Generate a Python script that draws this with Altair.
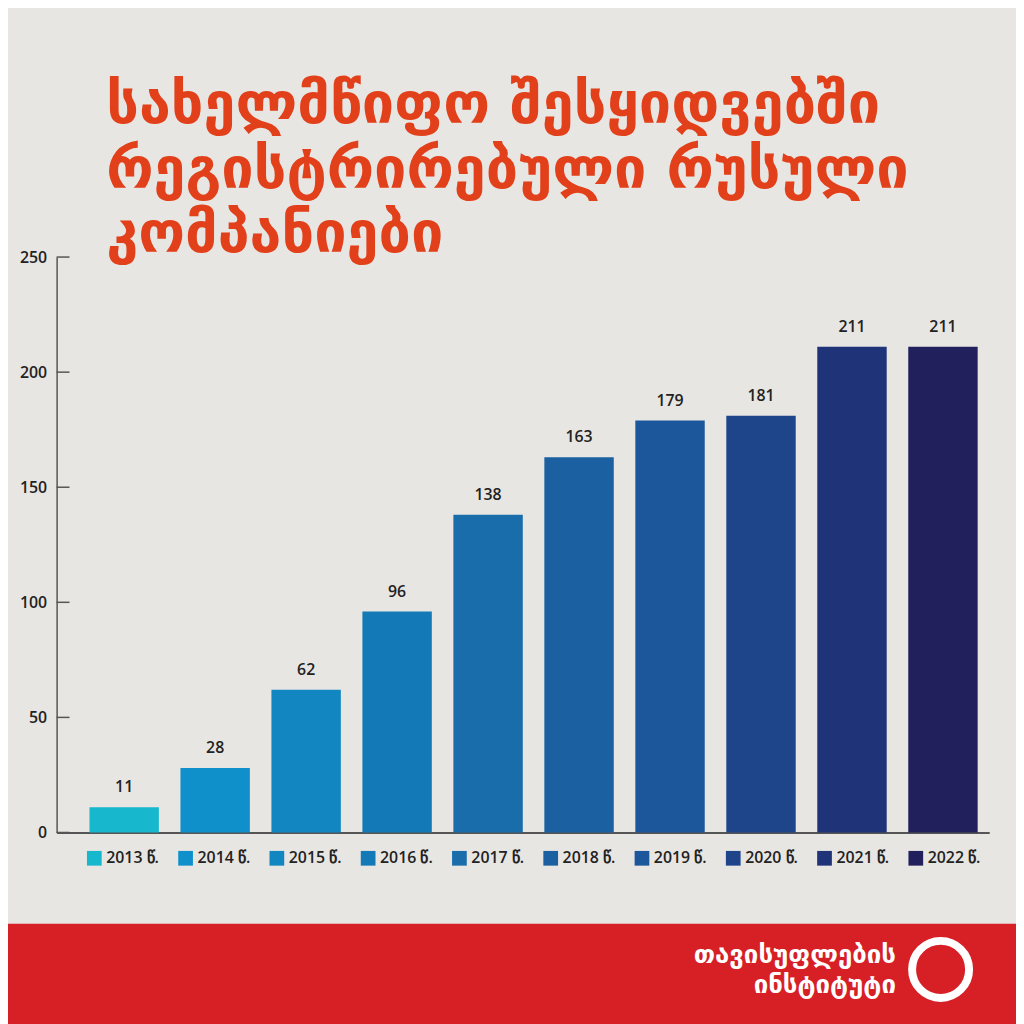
import altair as alt
import pandas as pd

# ---- data ----
years = ["2013 წ.", "2014 წ.", "2015 წ.", "2016 წ.", "2017 წ.",
         "2018 წ.", "2019 წ.", "2020 წ.", "2021 წ.", "2022 წ."]
values = [11, 28, 62, 96, 138, 163, 179, 181, 211, 211]
bar_colors = ["#17b8cd", "#0f90ca", "#1186c1", "#147ab7", "#196daa",
              "#1b61a2", "#1d579b", "#1e448a", "#1f3379", "#22205c"]
y_ticks = [0, 50, 100, 150, 200, 250]
title_lines = ["სახელმწიფო შესყიდვებში", "რეგისტრირებული რუსული", "კომპანიები"]
logo_lines = ["თავისუფლების", "ინსტიტუტი"]

BG = "#e8e6e3"
RED = "#d71f26"
TITLE_RED = "#e2401a"
NUM_FONT = "Open Sans"
GEO_FONT = "DejaVu Sans"

df = pd.DataFrame({"year": years, "value": values})
ticks_df = pd.DataFrame({"tick": y_ticks})

W, H = 940, 580
PAD_L, PAD_T = 49, 247
CANVAS = 1016

y_scale = alt.Scale(domain=[0, 250], nice=False)
x_enc = alt.X("year:N", sort=years,
              scale=alt.Scale(paddingInner=0.237, paddingOuter=0.244, align=0.74),
              axis=alt.Axis(title=None, labels=False, ticks=False, domain=True,
                            domainColor="#555555", domainWidth=2))

bars = alt.Chart(df).mark_bar().encode(
    x=x_enc,
    y=alt.Y("value:Q", scale=y_scale,
            axis=alt.Axis(title=None, values=y_ticks, tickSize=0, grid=False,
                          domainColor="#555555", domainWidth=1.5,
                          labelFont=NUM_FONT, labelFontSize=16, labelFontWeight=600,
                          labelColor="#222222", labelPadding=10)),
    color=alt.Color("year:N", sort=years,
                    scale=alt.Scale(domain=years, range=bar_colors),
                    legend=alt.Legend(title=None, orient="none", legendX=30, legendY=598,
                                      direction="horizontal", columns=10,
                                      symbolType="square", symbolSize=220,
                                      symbolStrokeWidth=0, symbolOpacity=1,
                                      labelFont=NUM_FONT, labelFontSize=16,
                                      labelFontWeight=600, labelColor="#222222",
                                      labelOffset=4, columnPadding=18, gridAlign="all")),
)

labels = alt.Chart(df).mark_text(baseline="bottom", dy=-12, font=NUM_FONT,
                                 fontSize=16, fontWeight=600, color="#222222").encode(
    x=alt.X("year:N", sort=years),
    y=alt.Y("value:Q", scale=y_scale),
    text=alt.Text("value:Q"),
)

tick_rules = alt.Chart(ticks_df).mark_rule(color="#555555", strokeWidth=1.5).encode(
    y=alt.Y("tick:Q", scale=y_scale),
    x=alt.value(0),
    x2=alt.value(13),
)

red_band = alt.Chart(pd.DataFrame({"a": [0]})).mark_rect(color=RED).encode(
    x=alt.value(-PAD_L), x2=alt.value(CANVAS - PAD_L),
    y=alt.value(672), y2=alt.value(CANVAS - PAD_T + 8),
)


def text_line(txt, x, y, size, color, align="left"):
    return alt.Chart(pd.DataFrame({"t": [txt]})).mark_text(
        align=align, baseline="alphabetic", font=GEO_FONT, fontSize=size,
        fontWeight="bold", color=color).encode(
        x=alt.value(x), y=alt.value(y), text="t:N")


title_layers = [text_line(t, 50, y, 58, TITLE_RED)
                for t, y in zip(title_lines, [-135, -70, -5])]
logo_layers = [text_line(t, 846, y, 26, "white", align="right")
               for t, y in zip(logo_lines, [712, 742])]

logo_ring = alt.Chart(pd.DataFrame({"a": [0]})).mark_point(
    shape="circle", filled=False, stroke="white", strokeWidth=8, opacity=1,
    size=3300).encode(x=alt.value(891), y=alt.value(718))

chart = alt.layer(red_band, bars, labels, tick_rules, *title_layers, *logo_layers,
                  logo_ring).properties(
    width=W, height=H,
    autosize=alt.AutoSizeParams(type="none"),
    padding={"left": PAD_L, "top": PAD_T, "right": CANVAS - PAD_L - W,
             "bottom": CANVAS - PAD_T - H},
    background=BG,
).configure_view(stroke=None)

chart.save("out.html", embed_options={"renderer": "svg", "actions": False})
